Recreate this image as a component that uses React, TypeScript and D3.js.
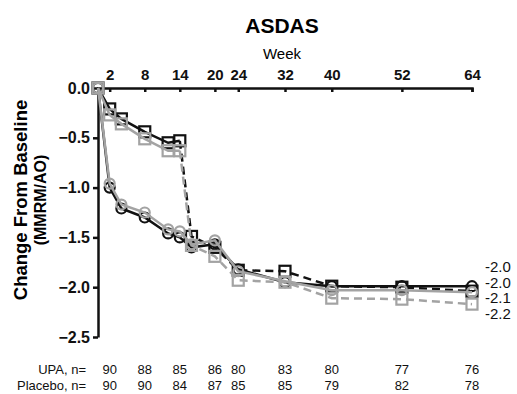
import React, { useRef, useEffect } from "react";
import * as d3 from "d3";

// weeks with a measured value
const weeks = [0, 2, 4, 8, 12, 14, 16, 20, 24, 32, 40, 52, 64];

// UPA -> UPA (circles), placebo -> UPA at wk 14 (squares); black = MMRM, gray = AO
const upaMmrm = [0, -1.0, -1.21, -1.3, -1.46, -1.5, -1.6, -1.57, -1.82, -1.95, -1.99, -1.99, -1.99];
const upaAo = [0, -0.96, -1.17, -1.25, -1.42, -1.44, -1.57, -1.53, -1.84, -1.94, -2.03, -2.03, -2.05];
const pboMmrm = [0, -0.21, -0.31, -0.44, -0.55, -0.53, -1.49, -1.6, -1.83, -1.84, -1.99, -2.0, -2.04];
const pboAo = [0, -0.27, -0.36, -0.51, -0.63, -0.63, -1.58, -1.69, -1.93, -1.95, -2.11, -2.12, -2.17];

const switchWeek = 14;

const tickWeeks = [2, 8, 14, 20, 24, 32, 40, 52, 64];
const yTicks = [0, -0.5, -1.0, -1.5, -2.0, -2.5];

const upaN = [90, 88, 85, 86, 80, 83, 80, 77, 76];
const placeboN = [90, 90, 84, 87, 85, 85, 79, 82, 78];

const endLabels = ["-2.0", "-2.0", "-2.1", "-2.2"];

const BLACK = "#111";
const GRAY = "#a3a3a3";
const FONT = "'Liberation Sans', Arial, sans-serif";

export default function App() {
  const svgRef = useRef<SVGSVGElement>(null);
  const width = 517;
  const height = 394;

  useEffect(() => {
    const svg = d3.select(svgRef.current);
    svg.selectAll("*").remove();

    const x = d3.scaleLinear().domain([0, 64]).range([98, 472]);
    const y = d3.scaleLinear().domain([0, -2.5]).range([88, 337]);

    svg.attr("width", width).attr("height", height).style("font-family", FONT);

    // Title + axis title
    svg.append("text")
      .attr("x", 282).attr("y", 33)
      .attr("text-anchor", "middle")
      .attr("font-size", 21).attr("font-weight", "bold")
      .text("ASDAS");
    svg.append("text")
      .attr("x", 282).attr("y", 59)
      .attr("text-anchor", "middle")
      .attr("font-size", 15)
      .text("Week");

    // Y title
    const yt = svg.append("g").attr("transform", "translate(0,200) rotate(-90)");
    yt.append("text")
      .attr("x", 0).attr("y", 27)
      .attr("text-anchor", "middle")
      .attr("font-size", 18.5).attr("font-weight", "bold")
      .text("Change From Baseline");
    yt.append("text")
      .attr("x", 0).attr("y", 46)
      .attr("text-anchor", "middle")
      .attr("font-size", 16).attr("font-weight", "bold")
      .text("(MMRM/AO)");

    // X axis (top)
    const xa = svg.append("g")
      .attr("transform", `translate(0,${y(0)})`)
      .call(d3.axisTop(x).tickValues(tickWeeks).tickSize(-4).tickPadding(8).tickFormat(d3.format("d")));
    xa.select(".domain").attr("stroke", BLACK).attr("stroke-width", 2.5);
    xa.selectAll("line").attr("stroke", BLACK).attr("stroke-width", 2.5);
    xa.selectAll("text")
      .attr("fill", BLACK).attr("font-size", 15).attr("font-weight", "bold")
      .attr("font-family", FONT);

    // Y axis
    const ya = svg.append("g")
      .attr("transform", `translate(${x(0)},0)`)
      .call(d3.axisLeft(y).tickValues(yTicks).tickSize(5).tickSizeOuter(0).tickPadding(3).tickFormat(d3.format(".1f")));
    ya.select(".domain").attr("stroke", BLACK).attr("stroke-width", 2.5);
    ya.selectAll("line").attr("stroke", BLACK).attr("stroke-width", 2.5);
    ya.selectAll("text")
      .attr("fill", BLACK).attr("font-size", 16).attr("font-weight", "bold")
      .attr("font-family", FONT);

    const pts = (vals: number[]) => weeks.map((w, i) => [w, vals[i]] as [number, number]);
    const line = d3.line<[number, number]>().x((d) => x(d[0])).y((d) => y(d[1]));

    const series = [
      { vals: upaMmrm, color: BLACK, shape: "circle", split: false },
      { vals: pboMmrm, color: BLACK, shape: "square", split: true },
      { vals: upaAo, color: GRAY, shape: "circle", split: false },
      { vals: pboAo, color: GRAY, shape: "square", split: true },
    ];

    series.forEach((s) => {
      const p = pts(s.vals);
      const g = svg.append("g");
      if (s.split) {
        g.append("path")
          .attr("d", line(p.filter((d) => d[0] <= switchWeek)))
          .attr("fill", "none").attr("stroke", s.color).attr("stroke-width", 2.5);
        g.append("path")
          .attr("d", line(p.filter((d) => d[0] >= switchWeek)))
          .attr("fill", "none").attr("stroke", s.color).attr("stroke-width", 2.5)
          .attr("stroke-dasharray", "8,5");
      } else {
        g.append("path")
          .attr("d", line(p))
          .attr("fill", "none").attr("stroke", s.color).attr("stroke-width", 2.5);
      }
      if (s.shape === "circle") {
        g.selectAll("circle").data(p).join("circle")
          .attr("cx", (d) => x(d[0])).attr("cy", (d) => y(d[1])).attr("r", 5)
          .attr("fill", "none").attr("stroke", s.color).attr("stroke-width", 2.2);
      } else {
        g.selectAll("rect").data(p).join("rect")
          .attr("x", (d) => x(d[0]) - 5.5).attr("y", (d) => y(d[1]) - 5.5)
          .attr("width", 11).attr("height", 11)
          .attr("fill", "none").attr("stroke", s.color).attr("stroke-width", 2.2);
      }
    });

    // end-of-study labels
    svg.append("g").selectAll("text").data(endLabels).join("text")
      .attr("x", 485).attr("y", (d, i) => 272 + i * 15.5)
      .attr("font-size", 15)
      .attr("fill", BLACK)
      .text((d) => d);

    // n rows
    const rows = [
      { label: "UPA, n=", vals: upaN, yy: 374 },
      { label: "Placebo, n=", vals: placeboN, yy: 390 },
    ];
    rows.forEach((r) => {
      const g = svg.append("g").attr("font-size", 13).attr("fill", BLACK);
      g.append("text").attr("x", 86).attr("y", r.yy).attr("text-anchor", "end").text(r.label);
      g.selectAll("text.n").data(r.vals).join("text")
        .attr("class", "n")
        .attr("x", (d, i) => x(tickWeeks[i]))
        .attr("y", r.yy)
        .attr("text-anchor", "middle")
        .text((d) => d);
    });
  }, []);

  return (
    <svg ref={svgRef} style={{ position: "absolute", left: 0, top: 0, background: "#fff" }} />
  );
}
